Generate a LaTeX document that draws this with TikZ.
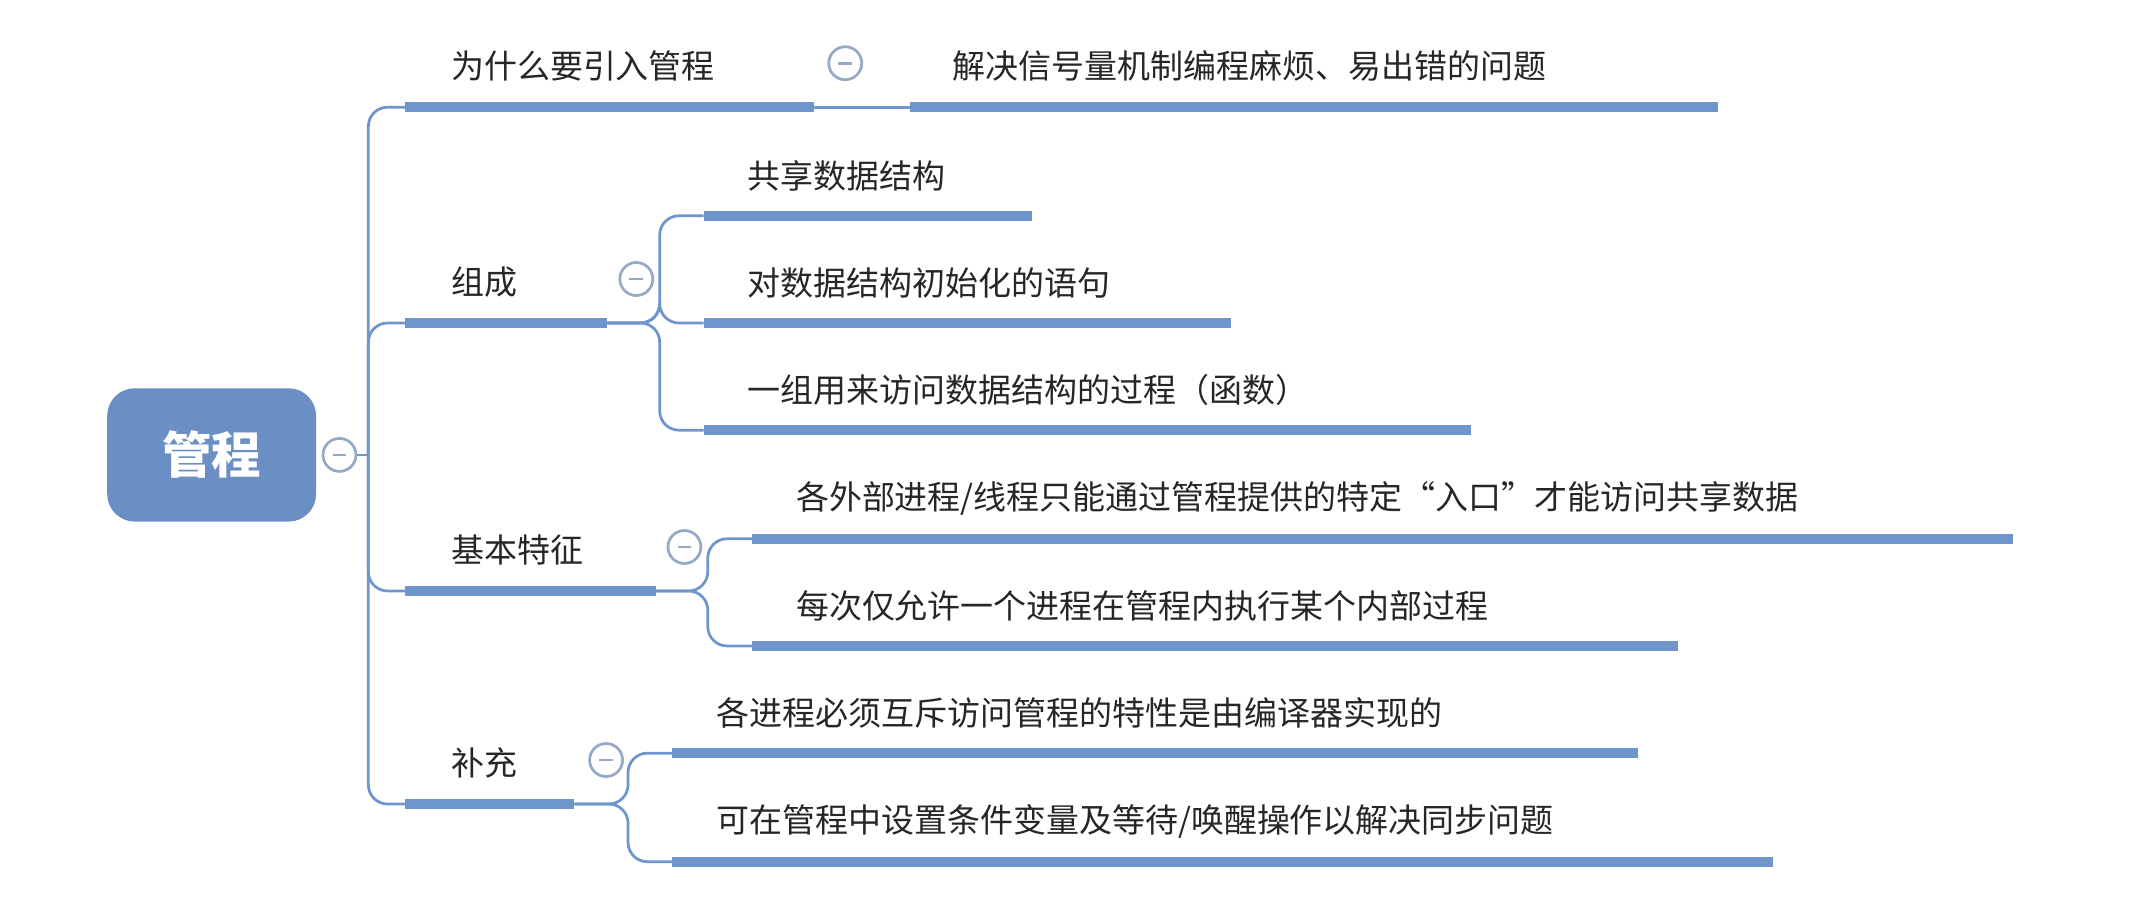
\documentclass[tikz,border=0pt]{standalone}
\usepackage{fontspec}
\setmainfont{Noto Sans CJK SC}
\definecolor{mybranch}{RGB}{110,150,205}
\definecolor{myroot}{RGB}{107,143,196}
\definecolor{myfold}{RGB}{150,170,200}
\usetikzlibrary{positioning,calc}
\tikzstyle{topic}=[anchor=west,inner sep=0pt,font=\fontsize{24}{28}\selectfont,text=black!85]
\tikzstyle{bar}=[mybranch,line width=7pt]
\tikzstyle{link}=[mybranch,line width=2pt,rounded corners=14pt]
\tikzstyle{fold}=[draw=myfold,fill=white,line width=2pt,circle,minimum size=24pt,inner sep=0pt,
  path picture={\draw[myfold,line width=2pt] ($(path picture bounding box.center)+(-5pt,0)$) -- ++(10pt,0);}]
\begin{document}
\begin{tikzpicture}[x=1pt,y=-1pt]
\useasboundingbox (0,0) rectangle (1560,671);
\node [fill=myroot,rounded corners=20pt,minimum width=152pt,minimum height=97pt,
  text=white,font=\fontsize{36}{40}\selectfont\bfseries] (root) at (154,331) {管程};
\node [fold] (f0) at (247,331) {};
\draw [link] (f0) -- (268,331) coordinate (trunk);

% first level
\foreach \name/\txt/\y/\xe/\fx in {why/为什么要引入管程/78/592/615,
    parts/组成/235/442/463, feat/基本特征/430/477/498, more/补充/585/418/441}{
  \node [topic] (\name) at (328,\y-30) {\txt};
  \coordinate (\name-a) at (295,\y);
  \coordinate (\name-b) at (\xe,\y);
  \draw [bar] (\name-a) -- (\name-b);
  \draw [link] (trunk) |- (\name-a);
  \node [fold] (\name-f) at (\fx,\y-32) {};
}

% second level
\node [topic] (why1) at (693,48) {解决信号量机制编程麻烦、易出错的问题};
\draw [link] (why-b) -- (662,78) coordinate (why1-a);
\draw [bar] (why1-a) -- (1250,78);

\foreach \name/\up/\txt/\y/\py/\xs/\xe/\xk in {
    p1/parts/共享数据结构/157/235/512/751/480,
    p2/parts/对数据结构初始化的语句/235/235/512/896/480,
    p3/parts/一组用来访问数据结构的过程（函数）/313/235/512/1070/480,
    f1/feat/{各外部进程/线程只能通过管程提供的特定“入口”才能访问共享数据}/392/430/547/1465/515,
    f2/feat/每次仅允许一个进程在管程内执行某个内部过程/470/430/547/1221/515,
    m1/more/各进程必须互斥访问管程的特性是由编译器实现的/548/585/489/1192/457,
    m2/more/{可在管程中设置条件变量及等待/唤醒操作以解决同步问题}/627/585/489/1290/457}{
  \node [topic] (\name) at (\xs+32,\y-29) {\txt};
  \coordinate (\name-a) at (\xs,\y);
  \draw [bar] (\name-a) -- (\xe,\y);
  \draw [link] (\up-b) -- (\xk,\py) |- (\name-a);
}
\end{tikzpicture}
\end{document}
